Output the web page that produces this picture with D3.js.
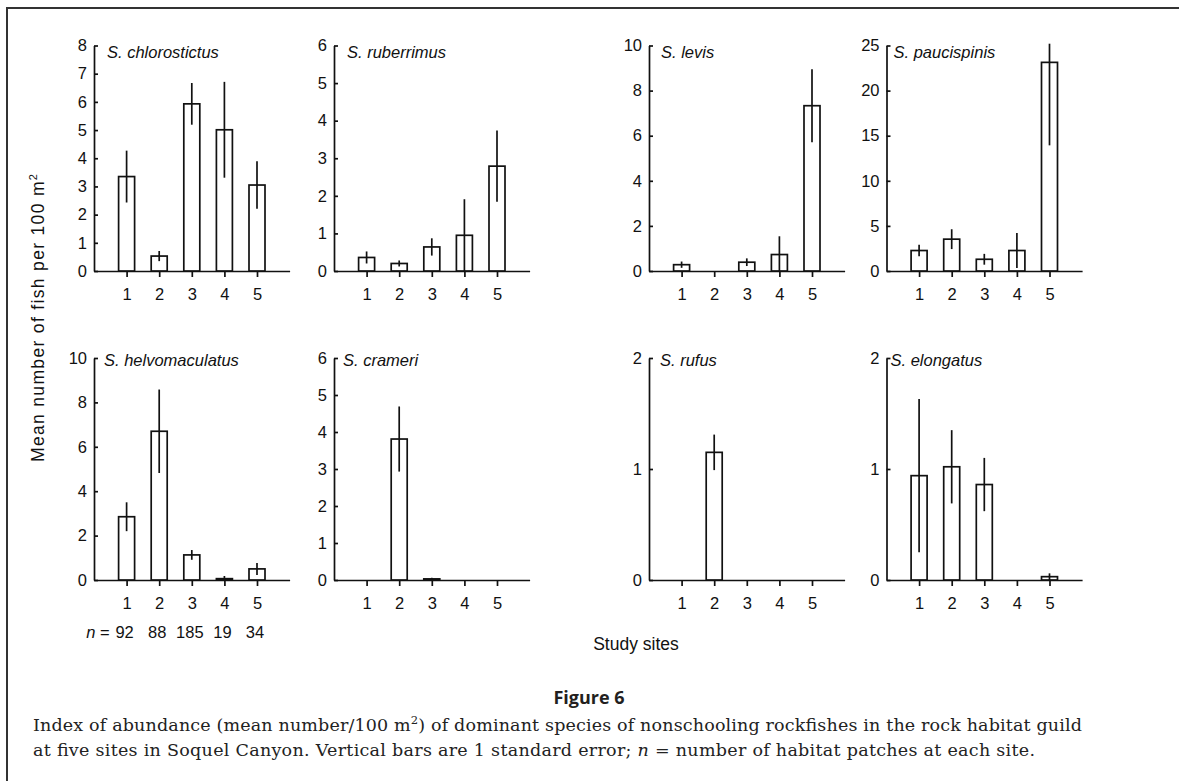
<!DOCTYPE html>
<html>
<head>
<meta charset="utf-8">
<script src="https://cdn.jsdelivr.net/npm/d3@7.9.0/dist/d3.min.js"></script>
<style>
  body { margin: 0; background: #fff; }
  svg { display: block; font-family: "Liberation Sans", Arial, Helvetica, sans-serif; }
  .axis path, .axis line { stroke: #111; stroke-width: 1.7; }
  .axis text { font-size: 16.5px; fill: #111; font-family: "Liberation Sans", Arial, Helvetica, sans-serif; }
</style>
</head>
<body>
<svg id="chart" width="1179" height="781"></svg>
<script>
// data
const sites = [1, 2, 3, 4, 5];
const species = ['S. chlorostictus', 'S. ruberrimus', 'S. levis', 'S. paucispinis',
                 'S. helvomaculatus', 'S. crameri', 'S. rufus', 'S. elongatus'];
const yMax = [8, 6, 10, 25, 10, 6, 2, 2];
const yTicks = [
  [0, 1, 2, 3, 4, 5, 6, 7, 8],
  [0, 1, 2, 3, 4, 5, 6],
  [0, 2, 4, 6, 8, 10],
  [0, 5, 10, 15, 20, 25],
  [0, 2, 4, 6, 8, 10],
  [0, 1, 2, 3, 4, 5, 6],
  [0, 1, 2],
  [0, 1, 2]
];
const means = [
  [3.35, 0.53, 5.93, 5.01, 3.05],
  [0.36, 0.20, 0.64, 0.95, 2.79],
  [0.28, 0, 0.39, 0.73, 7.33],
  [2.27, 3.53, 1.30, 2.27, 23.13],
  [2.85, 6.70, 1.13, 0.06, 0.50],
  [0, 3.81, 0.03, 0, 0],
  [0, 1.15, 0, 0, 0],
  [0.94, 1.02, 0.86, 0, 0.03]
];
const stdErr = [
  [0.92, 0.18, 0.74, 1.70, 0.84],
  [0.16, 0.08, 0.23, 0.96, 0.95],
  [0.14, 0, 0.17, 0.81, 1.62],
  [0.63, 1.10, 0.60, 1.93, 9.20],
  [0.65, 1.88, 0.22, 0.12, 0.27],
  [0, 0.88, 0.03, 0, 0],
  [0, 0.16, 0, 0, 0],
  [0.69, 0.33, 0.24, 0, 0.03]
];
const nPatches = [92, 88, 185, 19, 34];

// layout
const colLeft = [94, 334, 649, 886.5];
const rowTop = [45.5, 358];
const rowBase = [271, 580];
const titleBase = [58, 366];
const titleDx = [13, 13, 12, 7, 10, 9, 11, 4];
const panelW = 195.6;
const barW = 16;

const svg = d3.select('#chart');

// frame
svg.append('path')
  .attr('d', 'M7,781 V8 H1179')
  .attr('fill', 'none').attr('stroke', '#333').attr('stroke-width', 2);

species.forEach((name, i) => {
  const row = Math.floor(i / 4), col = i % 4;
  const x0 = colLeft[col];
  const x = d3.scaleLinear().domain([0, 6]).range([x0, x0 + panelW]);
  const y = d3.scaleLinear().domain([0, yMax[i]]).range([rowBase[row], rowTop[row]]);
  const g = svg.append('g');
  const rows = means[i].map((v, k) => ({ site: sites[k], v, se: stdErr[i][k] }));

  g.append('g').attr('class', 'axis')
    .attr('transform', `translate(0,${rowBase[row]})`)
    .call(d3.axisBottom(x).tickValues(sites).tickSize(6).tickSizeOuter(0).tickPadding(11)
      .tickFormat(d3.format('d')));

  g.append('g').attr('class', 'axis')
    .attr('transform', `translate(${x0},0)`)
    .call(d3.axisLeft(y).tickValues(yTicks[i]).tickSize(-4).tickSizeOuter(0).tickPadding(7)
      .tickFormat(d3.format('d')));

  // bars
  g.selectAll('rect.bar')
    .data(rows.filter(d => d.v > 0))
    .join('rect')
    .attr('x', d => x(d.site) - barW / 2)
    .attr('y', d => y(d.v))
    .attr('width', barW)
    .attr('height', d => y(0) - y(d.v))
    .attr('fill', '#fff')
    .attr('stroke', '#111')
    .attr('stroke-width', 1.7);

  // standard error lines (clipped just above the axis top like the original)
  g.selectAll('line.err')
    .data(rows.filter(d => d.se > 0))
    .join('line')
    .attr('x1', d => x(d.site)).attr('x2', d => x(d.site))
    .attr('y1', d => y(Math.max(0, d.v - d.se)))
    .attr('y2', d => y(Math.min(d.v + d.se, yMax[i] * 1.008)))
    .attr('stroke', '#111')
    .attr('stroke-width', 1.7);

  g.append('text')
    .attr('x', x0 + titleDx[i])
    .attr('y', titleBase[row])
    .attr('font-size', 16.5)
    .attr('font-style', 'italic')
    .attr('fill', '#111')
    .text(name);

  // sample sizes under the first bottom panel
  if (i === 4) {
    const nRow = g.append('g').attr('font-size', 16.5).attr('fill', '#111');
    nRow.selectAll('text.n')
      .data(nPatches)
      .join('text')
      .attr('x', (d, k) => x(sites[k]) - 2)
      .attr('y', 638)
      .attr('text-anchor', 'middle')
      .text(d => d);
    nRow.append('text')
      .attr('x', x(1) - 17)
      .attr('y', 638)
      .attr('text-anchor', 'end')
      .html('<tspan font-style="italic">n</tspan> =');
  }
});

// shared axis titles
svg.append('text')
  .attr('transform', 'translate(44,318) rotate(-90)')
  .attr('text-anchor', 'middle')
  .attr('font-size', 17.5)
  .attr('fill', '#111')
  .attr('textLength', 288)
  .html('Mean number of fish per 100 m<tspan font-size="11" dy="-7">2</tspan>');

svg.append('text')
  .attr('x', 636).attr('y', 650)
  .attr('text-anchor', 'middle')
  .attr('font-size', 17.5)
  .attr('fill', '#111')
  .text('Study sites');

// caption
svg.append('text')
  .attr('x', 589).attr('y', 704)
  .attr('text-anchor', 'middle')
  .attr('font-family', '"Open Sans", sans-serif')
  .attr('font-weight', 700)
  .attr('font-size', 18)
  .attr('fill', '#231f20')
  .text('Figure 6');

const capFont = '"DejaVu Serif", serif';
svg.append('text')
  .attr('x', 33).attr('y', 731)
  .attr('font-family', capFont).attr('font-size', 17.5).attr('fill', '#222')
  .attr('textLength', 1049).attr('lengthAdjust', 'spacing')
  .html('Index of abundance (mean number/100 m<tspan font-size="11.5" dy="-7">2</tspan><tspan dy="7">) of dominant species of nonschooling rockfishes in the rock habitat guild</tspan>');

svg.append('text')
  .attr('x', 33).attr('y', 756)
  .attr('font-family', capFont).attr('font-size', 17.5).attr('fill', '#222')
  .attr('textLength', 1002).attr('lengthAdjust', 'spacing')
  .html('at five sites in Soquel Canyon. Vertical bars are 1 standard error; <tspan font-style="italic">n</tspan> = number of habitat patches at each site.');
</script>
</body>
</html>
